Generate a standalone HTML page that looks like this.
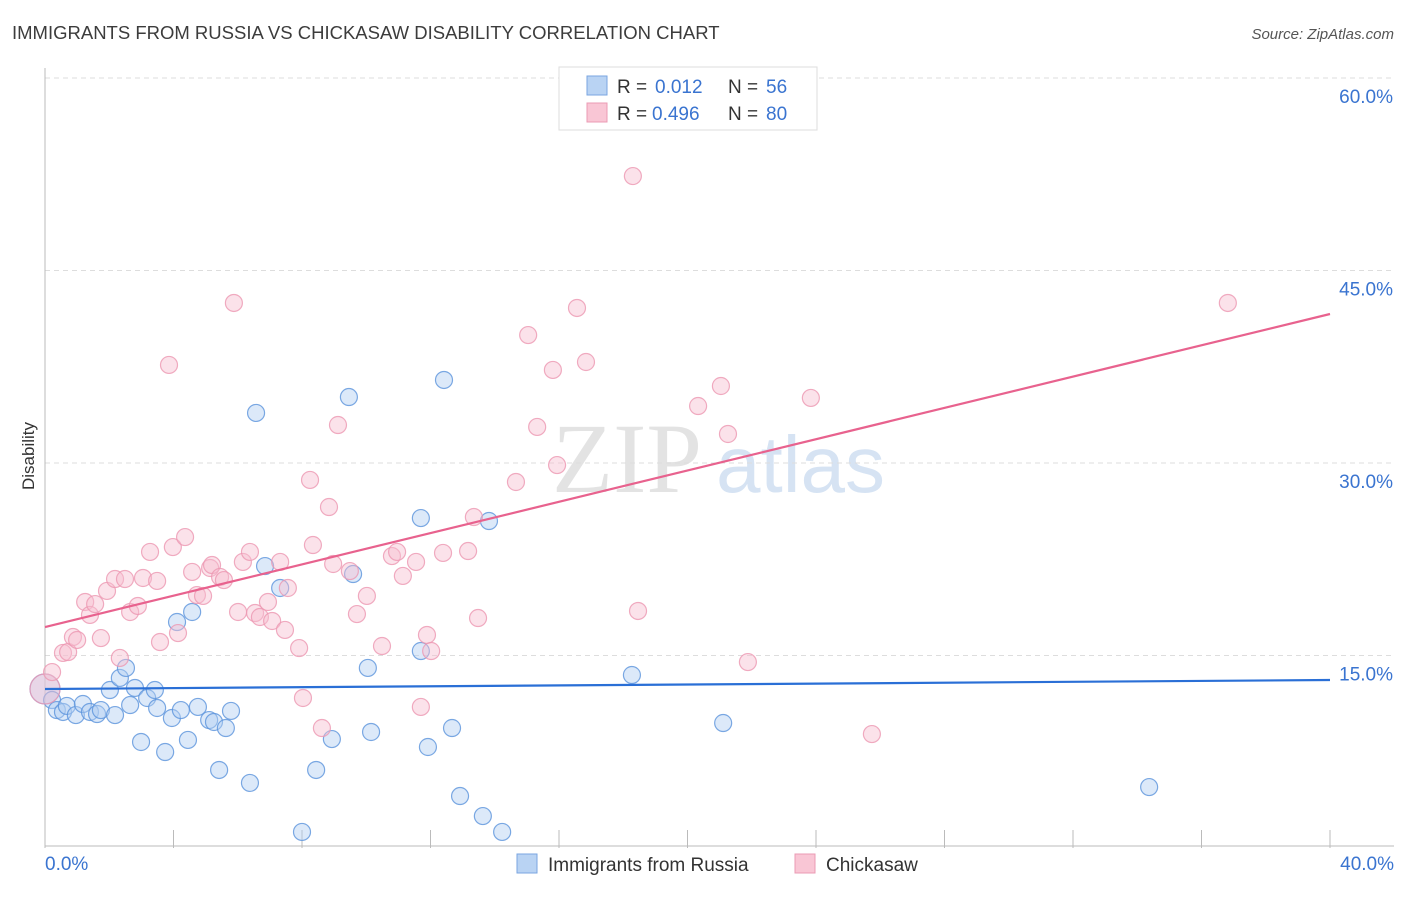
<!DOCTYPE html>
<html><head><meta charset="utf-8"><style>
body{margin:0;background:#fff;font-family:"Liberation Sans",sans-serif;}
</style></head><body>
<svg id="chart" width="1406" height="892" xmlns="http://www.w3.org/2000/svg" font-family="Liberation Sans, sans-serif">
<text x="12" y="39" font-size="18.5" fill="#3c3c3c">IMMIGRANTS FROM RUSSIA VS CHICKASAW DISABILITY CORRELATION CHART</text>
<text x="1394" y="39" font-size="15" fill="#555" font-style="italic" text-anchor="end">Source: ZipAtlas.com</text>
<g>
<text x="552" y="492" font-family="Liberation Serif, serif" font-size="100" fill="#d8d8d8" opacity="0.7">ZIP</text>
<text x="716" y="492" font-size="80" fill="#c5d8ef" opacity="0.7">atlas</text>
</g>
<g id="grid"></g>
<g id="axes"></g>
<g id="pts"></g>
<g id="trend"></g>
<text transform="translate(34,456) rotate(-90)" font-size="17" fill="#333" text-anchor="middle">Disability</text>
<g>
<rect x="559" y="67" width="258" height="63" fill="#fff" stroke="#ddd"/>
<rect x="587" y="76" width="20" height="19" fill="#b9d3f3" stroke="#7aa6e0"/>
<text x="617" y="93" font-size="19" fill="#333">R =</text><text x="655" y="93" font-size="19" fill="#3a74d0">0.012</text>
<text x="728" y="93" font-size="19" fill="#333">N =</text><text x="766" y="93" font-size="19" fill="#3a74d0">56</text>
<rect x="587" y="103" width="20" height="19" fill="#f9c6d5" stroke="#eb9bb4"/>
<text x="617" y="120" font-size="19" fill="#333">R =</text><text x="652" y="120" font-size="19" fill="#3a74d0">0.496</text>
<text x="728" y="120" font-size="19" fill="#333">N =</text><text x="766" y="120" font-size="19" fill="#3a74d0">80</text>
</g>
<g>
<rect x="517" y="854" width="20" height="19" fill="#b9d3f3" stroke="#7aa6e0"/>
<text x="548" y="871" font-size="19" fill="#333">Immigrants from Russia</text>
<rect x="795" y="854" width="20" height="19" fill="#f9c6d5" stroke="#eb9bb4"/>
<text x="826" y="871" font-size="19" fill="#333">Chickasaw</text>
</g>
</svg>
<script>
const yTicks=[15,30,45,60];
const yTickLabels=["15.0%","30.0%","45.0%","60.0%"];
const xTicks=[0,4,8,12,16,20,24,28,32,36,40];
const blueX=[0,0.22,0.37,0.56,0.68,0.96,1.18,1.40,1.62,1.74,2.02,2.18,2.33,2.52,2.65,2.80,2.99,3.18,3.42,3.49,3.74,3.95,4.11,4.23,4.45,4.58,4.76,5.11,5.26,5.42,5.63,5.79,6.38,6.57,6.85,7.32,8.00,8.44,8.93,9.46,9.59,10.05,10.15,11.70,11.70,11.92,12.42,12.67,12.92,13.63,13.82,14.23,18.27,21.11,34.37];
const blueY=[12.39,11.53,10.75,10.60,11.07,10.36,11.22,10.60,10.44,10.75,12.31,10.36,13.25,14.03,11.14,12.47,8.26,11.69,12.31,10.91,7.48,10.13,17.61,10.75,8.42,18.39,10.99,9.97,9.82,6.08,9.35,10.68,5.07,33.90,21.97,20.26,1.25,6.08,8.49,35.14,21.35,14.03,9.04,25.71,15.35,7.87,36.47,9.35,4.05,2.49,25.48,1.25,13.48,9.74,4.75];
const pinkX=[0,0.22,0.56,0.72,0.87,1.00,1.25,1.40,1.56,1.74,1.93,2.18,2.33,2.49,2.65,2.89,3.05,3.27,3.49,3.58,3.86,3.98,4.14,4.36,4.58,4.73,4.92,5.14,5.20,5.45,5.57,5.88,6.01,6.16,6.38,6.54,6.69,6.94,7.07,7.32,7.56,7.47,7.91,8.03,8.25,8.34,8.62,8.84,8.97,9.12,9.49,9.71,10.02,10.49,10.80,10.96,11.14,11.55,11.70,11.89,12.02,12.39,13.17,13.35,13.48,14.66,15.04,15.32,15.81,15.94,16.56,16.84,18.30,18.46,20.33,21.04,21.26,21.88,23.84,25.74,36.82];
const pinkY=[12.39,13.71,15.20,15.27,16.44,16.21,19.17,18.16,19.01,16.36,20.03,20.96,14.81,20.96,18.39,18.86,21.04,23.07,20.81,16.05,37.64,23.45,16.75,24.23,21.51,19.71,19.64,21.82,22.05,21.12,20.88,42.47,18.39,22.29,23.07,18.31,18.00,19.17,17.69,22.29,20.26,16.99,15.58,11.69,28.68,23.61,9.35,26.57,22.13,32.96,21.58,18.23,19.64,15.74,22.75,23.07,21.20,22.29,10.99,16.60,15.35,22.99,23.14,25.79,17.92,28.52,39.97,32.81,37.25,29.84,42.08,37.87,52.36,18.47,34.44,36.00,32.26,14.49,35.07,8.88,42.47];
const blueTrend=[12.39,13.09];
const pinkTrend=[17.22,41.61];
const trendX=[0,40];

const NS="http://www.w3.org/2000/svg";
const X0=45,X1=1330,Y0=848,YTOP=78;
function xs(v){return X0+(v/40)*(X1-X0);}
function ys(v){return Y0-(v/60)*(Y0-YTOP);}
function mk(tag,attrs,parent){const e=document.createElementNS(NS,tag);for(const k in attrs)e.setAttribute(k,attrs[k]);parent.appendChild(e);return e;}
const grid=document.getElementById('grid'),axes=document.getElementById('axes'),pts=document.getElementById('pts'),trend=document.getElementById('trend');
yTicks.forEach((t,i)=>{
  const l=mk('line',{x1:X0,x2:1394,y1:ys(t),y2:ys(t),stroke:'#ddd','stroke-dasharray':'5,4'},grid);
  
  
  const tx=mk('text',{x:1393,y:ys(t)+25,'font-size':19,fill:'#3a74d0','text-anchor':'end'},axes);
  tx.textContent=yTickLabels[i];
  
  
});
const ax=mk('line',{x1:X0,x2:1394,y1:Y0-2,y2:Y0-2,stroke:'#bbb'},axes);


const ay=mk('line',{x1:X0,x2:X0,y1:68,y2:Y0,stroke:'#bbb'},axes);


xTicks.forEach(t=>{
  const l=mk('line',{x1:xs(t),x2:xs(t),y1:Y0-18,y2:Y0,stroke:'#bbb'},axes);
  
  
});
const xl0=mk('text',{x:45,y:870,'font-size':19,fill:'#3a74d0'},axes);xl0.textContent='0.0%';


const xl1=mk('text',{x:1394,y:870,'font-size':19,fill:'#3a74d0','text-anchor':'end'},axes);xl1.textContent='40.0%';


function dots(X,Y,fill,stroke,name){
  X.forEach((v,i)=>{
    const r=i===0?15:8.5;
    const c=mk('circle',{cx:xs(v),cy:ys(Y[i]),r:r,fill:fill,'fill-opacity':0.45,stroke:stroke,'stroke-width':1.2,'stroke-opacity':0.8},pts);
    
    
  });
}
dots(blueX,blueY,'#b2cff2','#5b93dc','point-russia');
dots(pinkX,pinkY,'#f7bfd0','#ec97b2','point-chickasaw');
const bl=mk('line',{x1:xs(trendX[0]),x2:xs(trendX[1]),y1:ys(blueTrend[0]),y2:ys(blueTrend[1]),stroke:'#2a6fd6','stroke-width':2.2},trend);


const pl=mk('line',{x1:xs(trendX[0]),x2:xs(trendX[1]),y1:ys(pinkTrend[0]),y2:ys(pinkTrend[1]),stroke:'#e8628e','stroke-width':2.2},trend);


</script>
</body></html>
